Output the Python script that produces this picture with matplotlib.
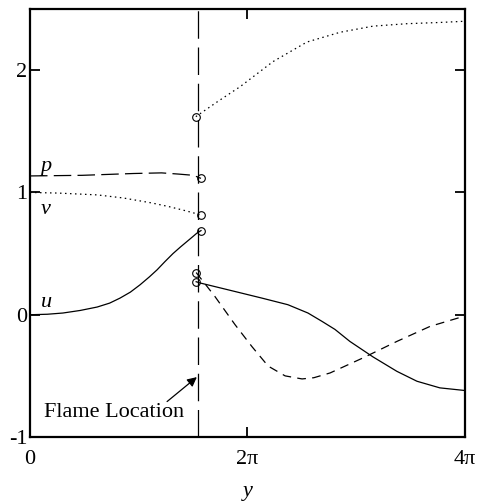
import numpy as np
import matplotlib.pyplot as plt

plt.rcParams['font.family'] = ['Liberation Serif', 'DejaVu Serif']

y_flame = 4.86

# left of the flame (y < y_flame)
y_left = [0.0, 0.5, 0.95, 1.45, 1.94, 2.3, 2.60, 2.9, 3.18, 3.45, 3.67, 3.9, 4.13, 4.35, 4.54, 4.70, 4.82, 4.94]
u_left = [0.0, 0.004, 0.014, 0.035, 0.063, 0.095, 0.136, 0.185, 0.245, 0.31, 0.367, 0.435, 0.50, 0.555, 0.60, 0.638, 0.667, 0.688]
p_y_left = [0.0, 1.5, 3.0, 3.8, 4.3, 4.72, 4.94]
p_left = [1.135, 1.14, 1.155, 1.16, 1.15, 1.14, 1.115]
v_y_left = [0.0, 0.8, 1.94, 2.69, 3.5, 4.0, 4.5, 4.94]
v_left = [1.0, 0.995, 0.98, 0.955, 0.915, 0.885, 0.85, 0.816]

# right of the flame
y_right = [4.80, 4.91, 5.72, 6.70, 7.45, 8.03, 8.44, 8.81, 9.24, 9.91, 10.60, 11.18, 11.84, 12.51, 12.566]
u_right = [0.27, 0.26, 0.204, 0.136, 0.082, 0.014, -0.055, -0.12, -0.218, -0.345, -0.463, -0.544, -0.598, -0.618, -0.62]
p_y_right = [4.80, 5.34, 5.92, 6.41, 6.88, 7.37, 7.86, 8.20, 8.67, 9.62, 10.60, 11.56, 12.566]
p_right = [0.345, 0.15, -0.08, -0.26, -0.42, -0.50, -0.525, -0.515, -0.476, -0.353, -0.218, -0.095, -0.01]
v_y_right = [4.79, 5.43, 6.07, 7.02, 8.00, 8.96, 9.91, 10.89, 11.84, 12.566]
v_right = [1.62, 1.745, 1.865, 2.07, 2.23, 2.31, 2.36, 2.38, 2.39, 2.40]

# jump values marked at the flame
mark_y_left = [4.94, 4.94, 4.94]
mark_left = [1.115, 0.816, 0.688]
mark_y_right = [4.79, 4.79, 4.79]
mark_right = [1.62, 0.345, 0.27]

fig = plt.figure(figsize=(4.81, 5.01), dpi=100)
ax = fig.add_axes([0.0624, 0.1277, 0.9043, 0.8543])

lw = 0.9
ax.plot(y_left, u_left, 'k-', lw=lw)
ax.plot(p_y_left, p_left, 'k', lw=lw, dashes=(14, 5))
ax.plot(v_y_left, v_left, 'k', lw=lw, dashes=(1.2, 2.8))
ax.plot(y_right, u_right, 'k-', lw=lw)
ax.plot(p_y_right, p_right, 'k', lw=lw, dashes=(7, 5), dash_capstyle='butt')
ax.plot(v_y_right, v_right, 'k', lw=lw, dashes=(1.2, 2.8))

ax.plot(mark_y_left, mark_left, 'o', ms=5.5, mfc='none', mec='k', mew=0.8)
ax.plot(mark_y_right, mark_right, 'o', ms=5.5, mfc='none', mec='k', mew=0.8)

ax.axvline(y_flame, color='k', lw=lw, dashes=(22, 7))

ax.text(0.3, 1.21, 'p', fontsize=16, style='italic', ha='left', va='center')
ax.text(0.3, 0.86, 'v', fontsize=16, style='italic', ha='left', va='center')
ax.text(0.3, 0.10, 'u', fontsize=16, style='italic', ha='left', va='center')

ax.text(2.43, -0.80, 'Flame Location', fontsize=16, ha='center', va='center')
ax.annotate('', xy=(4.82, -0.51), xytext=(3.96, -0.71),
            arrowprops=dict(arrowstyle='-|>', color='k', lw=0.9,
                            mutation_scale=14, shrinkA=0, shrinkB=0))

ax.set_xlim(0, 4 * np.pi)
ax.set_ylim(-1, 2.5)
ax.set_xticks([0, 2 * np.pi, 4 * np.pi])
ax.set_xticklabels(['0', '2π', '4π'])
ax.set_yticks([-1, 0, 1, 2])
ax.set_yticklabels(['-1', '0', '1', '2'])
ax.tick_params(direction='in', length=7, width=1.3, labelsize=16,
               top=True, right=True, pad=2)
ax.tick_params(axis='x', pad=9)
ax.set_xlabel('y', fontsize=16, style='italic', labelpad=10)
for s in ax.spines.values():
    s.set_linewidth(1.6)

fig.savefig('out.png', dpi=100)
